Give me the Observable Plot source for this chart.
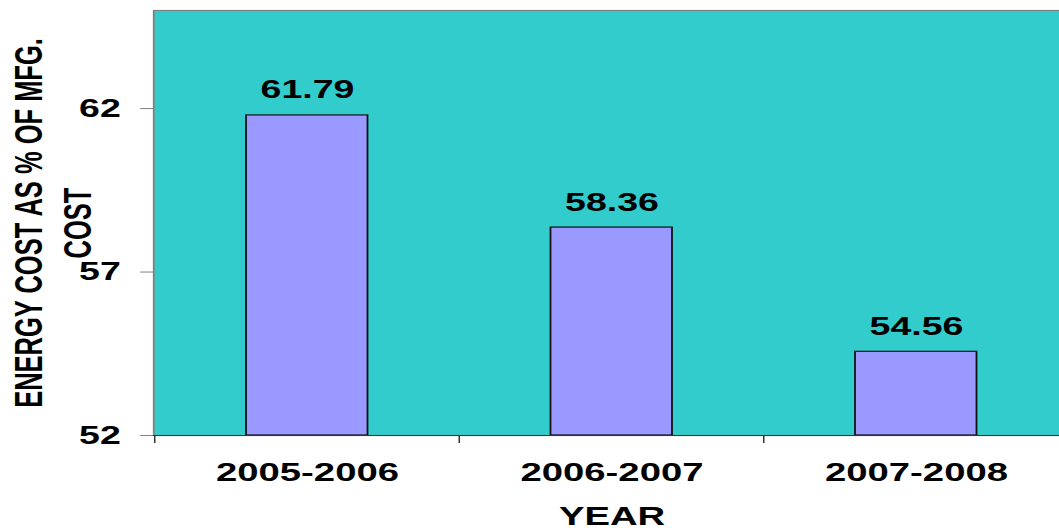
<!DOCTYPE html>
<html>
<head>
<meta charset="utf-8">
<script src="https://cdn.jsdelivr.net/npm/d3@7"></script>
<script src="https://cdn.jsdelivr.net/npm/@observablehq/plot@0.6"></script>
<style>
  html, body { margin: 0; padding: 0; background: #fff; overflow: hidden; }
</style>
</head>
<body>
<div id="chart"></div>
<script>
// Energy cost as a share of manufacturing cost, by financial year
const years = ["2005-2006", "2006-2007", "2007-2008"];
const costShare = [61.79, 58.36, 54.56];
const yTicks = [52, 57, 62];
const yDomain = [52, 65];

const data = years.map((year, i) => ({year, value: costShare[i]}));

// The chart is laid out in narrow units and then widened 1.5x horizontally.
const W = 713, H = 531, stretch = 1.5;
const mL = 102, mR = 0, mT = 10, mB = 96;
const step = (W - mL - mR) / years.length;
const font = "'Liberation Sans', Arial, Helvetica, sans-serif";

const svg = Plot.plot({
  width: W,
  height: H,
  marginLeft: mL,
  marginRight: mR,
  marginTop: mT,
  marginBottom: mB,
  style: {fontFamily: font, fontWeight: "bold", background: "white", color: "black"},
  x: {domain: years, paddingInner: 0.6, paddingOuter: 0.3, axis: null},
  y: {domain: yDomain, axis: null},
  marks: [
    Plot.frame({fill: "#33CCCC", stroke: "#808080", strokeWidth: 1.2}),
    Plot.barY(data, {x: "year", y1: yDomain[0], y2: "value", fill: "#9999FF", stroke: "#111", strokeWidth: 1.2}),
    Plot.ruleY([yDomain[0]], {stroke: "#333", strokeWidth: 1.2}),
    // value labels above the bars
    Plot.text(data, {
      x: "year", y: "value", text: d => d.value.toFixed(2),
      dy: -25, lineAnchor: "middle", fontSize: 25, fontWeight: "bold", fill: "black"
    }),
    // y axis ticks and labels
    Plot.axisY({
      ticks: yTicks, tickSize: 8.5, tickPadding: 13.5, fontSize: 25, fontWeight: "bold",
      stroke: "#808080", fill: "black", label: null
    }),
    // category separators on the x axis
    Plot.axisX({
      ticks: years, tickSize: 8, tickFormat: () => "", dx: -step / 2, stroke: "#333", label: null
    }),
    // category labels
    Plot.axisX({
      ticks: years, tickSize: 0, tickPadding: 27, fontSize: 25.5, fontWeight: "bold",
      fill: "black", label: null
    }),
    // axis titles
    Plot.text(["YEAR"], {
      frameAnchor: "bottom", dy: 81, lineAnchor: "middle", fontSize: 25.5, fontWeight: "bold", fill: "black"
    }),
    Plot.text(["ENERGY COST AS % OF MFG."], {
      frameAnchor: "left", textAnchor: "middle", dx: -82.7, rotate: -90, lineAnchor: "middle",
      fontSize: 25.5, fontWeight: "bold", fill: "black"
    }),
    Plot.text(["COST"], {
      frameAnchor: "left", textAnchor: "middle", dx: -50.3, rotate: -90, lineAnchor: "middle",
      fontSize: 25.5, fontWeight: "bold", fill: "black"
    })
  ]
});

svg.setAttribute("viewBox", `0 0 ${W} ${H}`);
svg.setAttribute("preserveAspectRatio", "none");
svg.setAttribute("width", W * stretch);
svg.setAttribute("height", H);
svg.style.maxWidth = "none";
svg.style.width = `${W * stretch}px`;
svg.style.height = `${H}px`;
document.getElementById("chart").append(svg);
</script>
</body>
</html>
